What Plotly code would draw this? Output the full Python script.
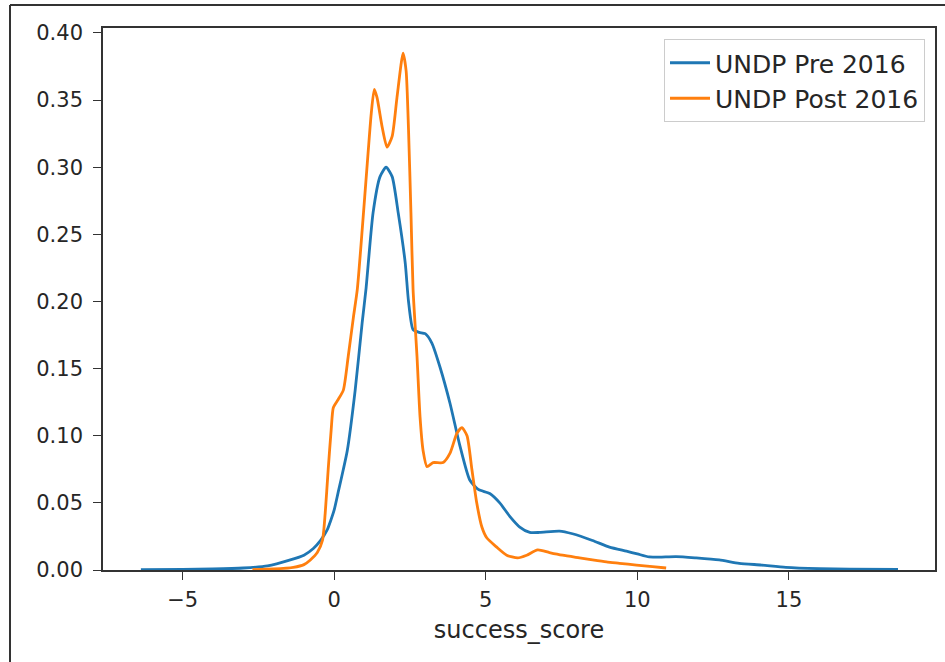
import plotly.graph_objects as go

# UNDP Pre 2016 KDE
pre_x = [-6.38, -5.0, -4.0, -3.0, -2.2, -1.45, -1.0, -0.69, -0.45, -0.23, -0.13, 0.0, 0.13, 0.3, 0.43, 0.69, 0.92, 1.05,
         1.28, 1.51, 1.71, 1.91, 2.11, 2.34, 2.45, 2.6, 2.8, 3.0, 3.22, 3.49, 3.82, 4.14, 4.47, 4.75, 5.13, 5.46,
         5.79, 6.12, 6.45, 6.78, 7.43, 7.86, 8.52, 9.08, 9.64, 10.0, 10.39, 11.28, 11.94, 12.7, 13.36, 14.1,
         14.9, 16.0, 17.0, 18.6]
pre_y = [0.0003, 0.0005, 0.0008, 0.0015, 0.003, 0.0075, 0.011, 0.016, 0.022, 0.030, 0.036, 0.045, 0.058, 0.075, 0.089,
         0.134, 0.184, 0.210, 0.266, 0.293, 0.300, 0.293, 0.266, 0.229, 0.200, 0.179, 0.177, 0.176, 0.169,
         0.151, 0.124, 0.093, 0.067, 0.060, 0.057, 0.050, 0.040, 0.032, 0.028, 0.028, 0.029, 0.027,
         0.022, 0.017, 0.014, 0.012, 0.0097, 0.010, 0.009, 0.0075, 0.005, 0.0037, 0.002, 0.001, 0.0006, 0.0004]

# UNDP Post 2016 KDE
post_x = [-2.7, -2.0, -1.35, -1.0, -0.79, -0.56, -0.39, -0.3, -0.2, -0.1, -0.03, 0.13, 0.3, 0.46, 0.63, 0.76,
          0.92, 1.09, 1.22, 1.32, 1.41, 1.58, 1.74, 1.91, 2.07, 2.27, 2.37, 2.45, 2.53, 2.6, 2.73, 2.83, 2.93,
          3.06, 3.26, 3.59, 3.82, 4.05, 4.21, 4.38, 4.54, 4.7, 4.87, 5.03, 5.36, 5.69, 6.05, 6.35, 6.71, 7.1,
          7.53, 8.09, 8.52, 8.98, 9.41, 9.97, 10.5, 10.95]
post_y = [0.0003, 0.0008, 0.002, 0.004, 0.0075, 0.013, 0.022, 0.042, 0.075, 0.105, 0.121, 0.127, 0.134, 0.159,
          0.188, 0.209, 0.253, 0.303, 0.340, 0.358, 0.352, 0.330, 0.315, 0.323, 0.352, 0.385, 0.372, 0.328,
          0.266, 0.209, 0.159, 0.114, 0.089, 0.077, 0.080, 0.080, 0.087, 0.102, 0.106, 0.100, 0.075, 0.050,
          0.032, 0.024, 0.017, 0.011, 0.009, 0.011, 0.015, 0.013, 0.011, 0.009, 0.0075, 0.006, 0.005, 0.0037,
          0.0025, 0.0015]

series_names = ["UNDP Pre 2016", "UNDP Post 2016"]
colors = ["#1f77b4", "#ff7f0e"]

x_ticks = [-5, 0, 5, 10, 15]
y_ticks = [0.0, 0.05, 0.10, 0.15, 0.20, 0.25, 0.30, 0.35, 0.40]

fig = go.Figure()
fig.add_trace(go.Scatter(x=pre_x, y=pre_y, mode="lines", name=series_names[0],
                         line=dict(color=colors[0], width=2.8, shape="spline", smoothing=0.6)))
fig.add_trace(go.Scatter(x=post_x, y=post_y, mode="lines", name=series_names[1],
                         line=dict(color=colors[1], width=2.8, shape="spline", smoothing=0.6)))

L, R, T, B = 103, 10, 28, 92
W, H = 945, 662
pw = W - L - R
ph = H - T - B

tick_font = dict(family="DejaVu Sans", size=21, color="#262626")
axis_common = dict(showgrid=False, zeroline=False, showline=True, linecolor="#333333", linewidth=1.6,
                   mirror=True, ticks="outside", ticklen=8, tickwidth=1.4, tickcolor="#333333",
                   tickfont=tick_font, automargin=False)

fig.update_xaxes(range=[-7.63, 19.82], tickvals=x_ticks, ticklabelstandoff=2,
                 title=dict(text="success_score", font=dict(family="DejaVu Sans", size=24, color="#262626"),
                            standoff=10),
                 **axis_common)
fig.update_yaxes(range=[0, 0.4037], tickvals=y_ticks, tickformat=".2f", ticklabelstandoff=6, **axis_common)

# outer screenshot frame
fx = (10 - L) / pw
fy = (H - B - 5) / ph
fig.add_shape(type="line", xref="paper", yref="paper", x0=fx, x1=fx, y0=fy, y1=-0.3,
              line=dict(color="#333333", width=2))
fig.add_shape(type="line", xref="paper", yref="paper", x0=fx, x1=1.1, y0=fy, y1=fy,
              line=dict(color="#333333", width=2))

fig.update_layout(
    width=W, height=H,
    margin=dict(l=L, r=R, t=T, b=B, autoexpand=False),
    paper_bgcolor="white", plot_bgcolor="white",
    font=dict(family="DejaVu Sans", size=21, color="#262626"),
    showlegend=True,
    legend=dict(x=(925 - L) / pw, y=(570 - 39) / ph, xanchor="right", yanchor="top",
                bgcolor="rgba(255,255,255,0.9)", bordercolor="#cccccc", borderwidth=1,
                font=dict(family="DejaVu Sans", size=25, color="#262626"),
                itemwidth=40, tracegroupgap=0),
)

fig.write_html("out.html", config={"displayModeBar": False},
               post_script="document.body.style.margin='0';document.body.style.overflow='hidden';")
